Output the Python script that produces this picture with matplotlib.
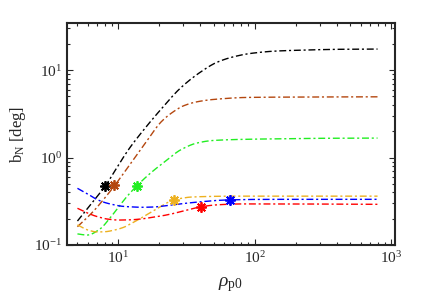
import numpy as np
import matplotlib
matplotlib.use('Agg')
import matplotlib.pyplot as plt

plt.rcParams['font.family'] = ['Liberation Serif', 'DejaVu Serif']
plt.rcParams['mathtext.fontset'] = 'custom'
plt.rcParams['mathtext.rm'] = 'Liberation Serif'
plt.rcParams['mathtext.it'] = 'Liberation Serif:italic'

# curves (rho_p0, b_N in deg)
black_x = [5, 6.3, 8, 9.8, 11.8, 15.5, 20.3, 28.5, 40, 53, 70, 93, 142, 217, 427, 800]
black_y = [0.188, 0.294, 0.472, 0.778, 1.22, 2.12, 3.49, 6.22, 9.48, 12.3, 14.2, 15.5, 16.5, 16.9, 17.3, 17.4]

brown_x = [5, 6.5, 8, 9.3, 10.9, 15.7, 20.8, 26.1, 30, 37.7, 50, 88, 155, 800]
brown_y = [0.162, 0.24, 0.35, 0.47, 0.659, 1.45, 2.6, 3.45, 3.9, 4.34, 4.62, 4.87, 4.91, 4.95]

green_x = [5, 5.9, 7.3, 8.7, 10, 11.5, 13.6, 17.1, 22.7, 28.5, 38, 50, 90, 160, 300, 800]
green_y = [0.134, 0.130, 0.152, 0.205, 0.27, 0.356, 0.472, 0.659, 0.936, 1.22, 1.47, 1.57, 1.62, 1.64, 1.66, 1.67]

orange_x = [5, 6, 7, 8, 9.3, 11, 12.3, 14, 16, 19.2, 25.4, 30, 33.7, 50, 64, 150, 800]
orange_y = [0.17, 0.148, 0.141, 0.142, 0.148, 0.160, 0.175, 0.195, 0.22, 0.26, 0.327, 0.345, 0.353, 0.36, 0.362, 0.362, 0.362]

blue_x = [5, 6, 7, 8, 9.3, 10.5, 12.3, 15, 18, 22.7, 30, 40, 56, 66, 100, 200, 800]
blue_y = [0.445, 0.38, 0.33, 0.305, 0.288, 0.278, 0.273, 0.27, 0.272, 0.282, 0.298, 0.312, 0.325, 0.328, 0.332, 0.333, 0.333]

red_x = [5, 6, 7, 8.3, 10, 12, 14.5, 17, 20, 24, 30, 40.5, 53, 80, 130, 800]
red_y = [0.263, 0.23, 0.211, 0.198, 0.193, 0.194, 0.198, 0.205, 0.213, 0.225, 0.245, 0.274, 0.288, 0.295, 0.295, 0.292]

# star markers
star_x = [8.0, 9.3, 13.6, 25.5, 40.5, 66]
star_y = [0.472, 0.48, 0.472, 0.327, 0.274, 0.328]
star_c = ['k', '#B4470F', '#22EE22', '#EDB120', '#FF0000', '#0000FF']

colors = ['k', '#B4470F', '#22EE22', '#EDB120', '#0000FF', '#FF0000']
curves = [(black_x, black_y), (brown_x, brown_y), (green_x, green_y),
          (orange_x, orange_y), (blue_x, blue_y), (red_x, red_y)]


def pchip(x, y, xs):
    # monotone cubic through the read points
    x = np.asarray(x, float)
    y = np.asarray(y, float)
    h = np.diff(x)
    d = np.diff(y) / h
    m = np.zeros_like(y)
    for i in range(1, len(x) - 1):
        if d[i - 1] * d[i] > 0:
            w1 = 2 * h[i] + h[i - 1]
            w2 = h[i] + 2 * h[i - 1]
            m[i] = (w1 + w2) / (w1 / d[i - 1] + w2 / d[i])
    m[0] = d[0]
    m[-1] = d[-1]
    idx = np.clip(np.searchsorted(x, xs) - 1, 0, len(x) - 2)
    t = (xs - x[idx]) / h[idx]
    h00 = 2 * t**3 - 3 * t**2 + 1
    h10 = t**3 - 2 * t**2 + t
    h01 = -2 * t**3 + 3 * t**2
    h11 = t**3 - t**2
    return h00 * y[idx] + h10 * h[idx] * m[idx] + h01 * y[idx + 1] + h11 * h[idx] * m[idx + 1]


fig = plt.figure(figsize=(4.36, 3.08), dpi=100)
ax = fig.add_axes([0.153, 0.2045, 0.753, 0.7195])

for (cx, cy), c in zip(curves, colors):
    lx = np.log10(cx)
    lxs = np.linspace(lx[0], lx[-1], 400)
    ys = 10 ** pchip(lx, np.log10(cy), lxs)
    ax.plot(10 ** lxs, ys, color=c, lw=1.0, ls=(0, (5, 2, 1.5, 2)))

for sx, sy, c in zip(star_x, star_y, star_c):
    ax.plot(sx, sy, marker=(8, 2, 0), color=c, ms=7.5, mew=1.3, ls='none')

ax.set_xscale('log')
ax.set_yscale('log')
ax.set_xlim(4.17, 1075)
ax.set_ylim(0.1, 34.2)

ax.tick_params(which='both', direction='in', top=True, right=True, colors='#262626',
               labelcolor='#262626', labelsize=11)
ax.tick_params(which='major', length=4, width=0.8)
ax.tick_params(which='minor', length=2.5, width=0.8)
for s in ax.spines.values():
    s.set_linewidth(1.5)
    s.set_color('#262626')

ax.set_xlabel(r'$\rho_{\mathrm{p0}}$', fontsize=14, color='#262626', labelpad=7)
ax.set_ylabel(r'$\mathrm{b}_{\mathrm{N}}$ [deg]', fontsize=12, color='#262626')

fig.savefig('out.png', dpi=100)
